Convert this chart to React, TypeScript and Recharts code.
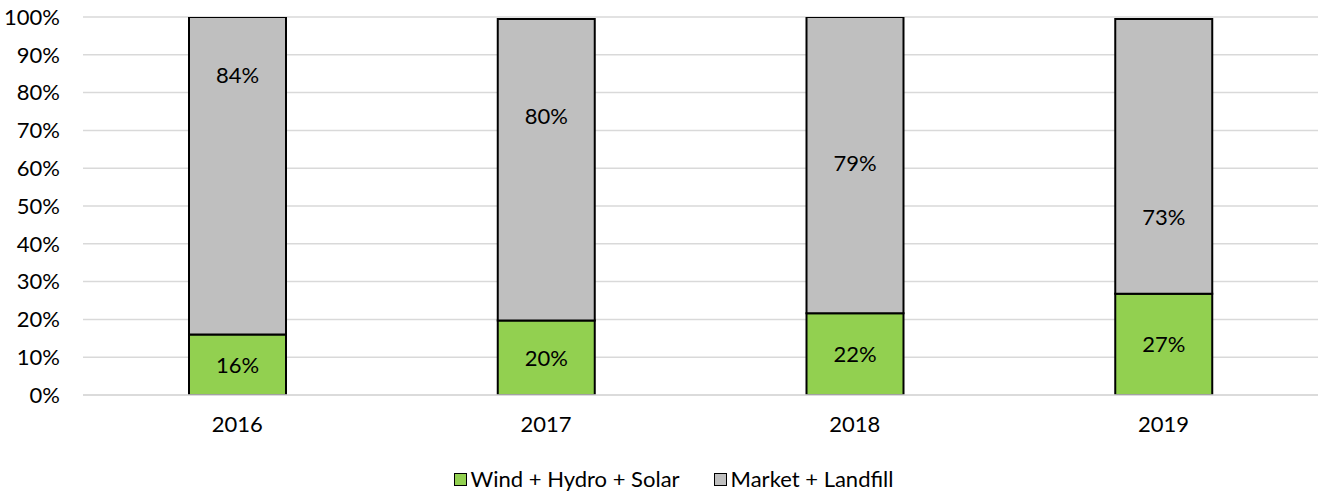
import { BarChart, Bar, XAxis, YAxis, CartesianGrid, Legend, LabelList } from "recharts";

const years = ["2016", "2017", "2018", "2019"];
const renewable = [16.0, 19.7, 21.6, 26.8]; // Wind + Hydro + Solar
const market = [84.0, 79.8, 78.6, 72.7]; // Market + Landfill
const yTicks = [0, 10, 20, 30, 40, 50, 60, 70, 80, 90, 100];

// where the grey labels sit inside their segment (share of height from the bottom)
const greyLabelLift = [0.82, 0.68, 0.51, 0.28];

const data = years.map((year, i) => ({
  year,
  renewable: renewable[i],
  market: market[i],
}));

const FONT = "Lato, 'Open Sans', sans-serif";
const FS = 22;
const GREEN = "#92D050";
const GREY = "#BFBFBF";

const pct = (v: any) => `${Math.round(Number(v))}%`;

function GreyLabel(props: any) {
  const { x, y, width, height, index, value } = props;
  const lift = greyLabelLift[index] ?? 0.5;
  return (
    <text
      x={x + width / 2}
      y={y + height * (1 - lift)}
      textAnchor="middle"
      dominantBaseline="central"
      fontSize={FS}
      fontFamily={FONT}
      fill="#000"
    >
      {pct(value)}
    </text>
  );
}

function LegendBox() {
  const items = [
    { name: "Wind + Hydro + Solar", color: GREEN },
    { name: "Market + Landfill", color: GREY },
  ];
  return (
    <div
      style={{
        display: "flex",
        justifyContent: "center",
        gap: 34,
        paddingTop: 30,
        paddingLeft: 29,
        fontFamily: FONT,
        fontSize: FS,
        lineHeight: "26px",
        color: "#000",
      }}
    >
      {items.map((it) => (
        <div key={it.name} style={{ display: "flex", alignItems: "center" }}>
          <span
            style={{
              display: "inline-block",
              width: 11,
              height: 11,
              background: it.color,
              border: "1.5px solid #000",
              marginRight: 4,
            }}
          />
          {it.name}
        </div>
      ))}
    </div>
  );
}

export default function App() {
  return (
    <div style={{ position: "absolute", left: 0, top: 0, width: 1318, height: 493, background: "#fff" }}>
      <BarChart
        width={1318}
        height={493}
        data={data}
        margin={{ top: 17, right: 0, left: 0, bottom: 0 }}
        barSize={97}
      >
        <CartesianGrid vertical={false} stroke="#d9d9d9" strokeWidth={1.5} />
        <XAxis
          dataKey="year"
          height={41}
          tickLine={false}
          tickSize={0}
          tickMargin={21}
          axisLine={{ stroke: "#d9d9d9", strokeWidth: 1.5 }}
          tick={{ fontSize: FS, fontFamily: FONT, fill: "#000" }}
        />
        <YAxis
          width={83}
          domain={[0, 100]}
          ticks={yTicks}
          allowDataOverflow
          tickFormatter={(v) => `${v}%`}
          axisLine={false}
          tickLine={false}
          tickSize={0}
          tickMargin={23}
          tick={{ fontSize: FS, fontFamily: FONT, fill: "#000" }}
        />
        <Legend verticalAlign="bottom" height={57} content={() => <LegendBox />} />
        <Bar dataKey="renewable" stackId="a" fill={GREEN} stroke="#000" strokeWidth={2} isAnimationActive={false}>
          <LabelList
            dataKey="renewable"
            position="center"
            formatter={pct}
            style={{ fontSize: FS, fontFamily: FONT, fill: "#000" }}
          />
        </Bar>
        <Bar dataKey="market" stackId="a" fill={GREY} stroke="#000" strokeWidth={2} isAnimationActive={false}>
          <LabelList dataKey="market" content={GreyLabel} />
        </Bar>
      </BarChart>
    </div>
  );
}
